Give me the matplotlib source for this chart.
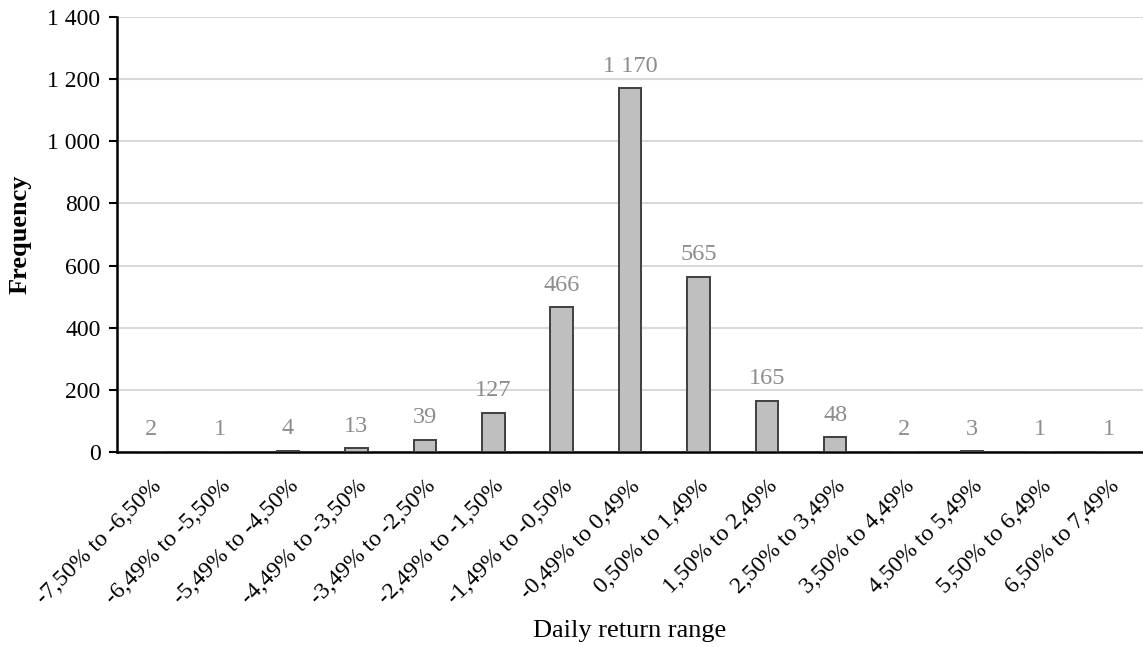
import matplotlib.pyplot as plt

# Data
categories = ["-7,50% to -6,50%", "-6,49% to -5,50%", "-5,49% to -4,50%",
              "-4,49% to -3,50%", "-3,49% to -2,50%", "-2,49% to -1,50%",
              "-1,49% to -0,50%", "-0,49% to 0,49%", "0,50% to 1,49%",
              "1,50% to 2,49%", "2,50% to 3,49%", "3,50% to 4,49%",
              "4,50% to 5,49%", "5,50% to 6,49%", "6,50% to 7,49%"]
frequency = [2, 1, 4, 13, 39, 127, 466, 1170, 565, 165, 48, 2, 3, 1, 1]
y_ticks = [0, 200, 400, 600, 800, 1000, 1200, 1400]

plt.rcParams['font.family'] = ['Liberation Serif', 'DejaVu Serif']


def fmt(v):
    return f"{v:,}".replace(",", " ")


fig = plt.figure(figsize=(11.43, 6.47), dpi=100)
ax = fig.add_axes([0.1024, 0.301, 0.8976, 0.673])

x = list(range(len(categories)))
ax.bar(x, frequency, width=0.33, color="#bfbfbf", edgecolor="#404040",
       linewidth=1.4, zorder=3)

# value labels above each bar
for xi, v in zip(x, frequency):
    ax.annotate(fmt(v), (xi, v), xytext=(0, 12), textcoords="offset points",
                ha="center", va="baseline", fontsize=17.5, color="#8c8c8c")

ax.set_xlim(-0.5, len(categories) - 0.5)
ax.set_ylim(0, 1400)
ax.set_yticks(y_ticks)
ax.set_yticklabels([fmt(t) for t in y_ticks], fontsize=17)
ax.set_xticks(x)
ax.set_xticklabels(categories, rotation=45, ha="right", rotation_mode="anchor",
                   fontsize=17)
ax.tick_params(axis="x", length=0, pad=17)
ax.tick_params(axis="y", length=6, width=1.5, direction="out", pad=6)

ax.grid(axis="y", color="#d9d9d9", linewidth=1.5, zorder=0)
for side in ["top", "right"]:
    ax.spines[side].set_visible(False)
ax.spines["left"].set_linewidth(1.8)
ax.spines["bottom"].set_linewidth(1.8)

ax.set_ylabel("Frequency", fontsize=19, fontweight="bold")
ax.yaxis.set_label_coords(-0.083, 0.5)
fig.text(0.551, 0.024, "Daily return range", ha="center", va="center", fontsize=19)

plt.savefig("out.png", dpi=100)
